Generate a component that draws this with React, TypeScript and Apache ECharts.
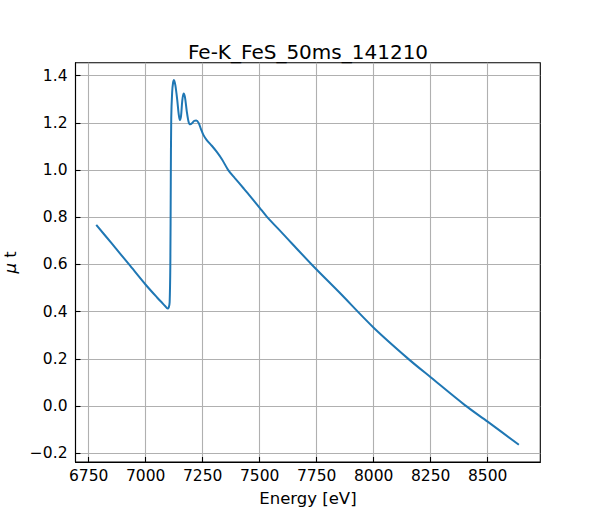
import React, { useEffect, useRef } from "react";
import * as echarts from "echarts";

const energy = [
  6783, 6850, 6927, 7000, 7050, 7085, 7096, 7101, 7105, 7108, 7110, 7112, 7116, 7120, 7124,
  7130, 7138, 7145, 7150, 7155, 7160, 7166, 7172, 7180, 7188, 7195, 7203, 7212, 7222,
  7232, 7242, 7253, 7267, 7290, 7311, 7335, 7362, 7392, 7430, 7457, 7500, 7531, 7600,
  7728, 7850, 8000, 8152, 8250, 8400, 8500, 8637,
];
const mu = [
  0.768, 0.69, 0.6, 0.514, 0.46, 0.424, 0.413, 0.418, 0.44, 0.6, 0.95, 1.22, 1.33, 1.37, 1.382,
  1.36, 1.3, 1.235, 1.212, 1.23, 1.29, 1.325, 1.31, 1.25, 1.205, 1.194, 1.198, 1.208, 1.21,
  1.2, 1.175, 1.149, 1.128, 1.103, 1.078, 1.045, 1.0, 0.965, 0.922, 0.891, 0.84, 0.803, 0.732,
  0.6, 0.481, 0.332, 0.2, 0.122, 0.004, -0.066, -0.164,
];
const xTicks = [6750, 7000, 7250, 7500, 7750, 8000, 8250, 8500];
const yTicks = [-0.2, 0, 0.2, 0.4, 0.6, 0.8, 1.0, 1.2, 1.4];
const title = "Fe-K_FeS_50ms_141210";

const FONT = "DejaVu Sans";

export default function App() {
  const ref = useRef<HTMLDivElement>(null);
  useEffect(() => {
    document.body.style.margin = "0";
    const chart = echarts.init(ref.current!, null, { renderer: "svg" });
    const points = energy.map((e, i) => [e, mu[i]]);
    chart.setOption({
      animation: false,
      backgroundColor: "#ffffff",
      title: {
        text: title,
        left: 303,
        textAlign: "center",
        top: 37,
        textStyle: { fontFamily: FONT, fontSize: 20, fontWeight: "normal", color: "#000" },
      },
      grid: {
        left: 75.5,
        right: 59.7,
        top: 62.7,
        bottom: 58,
        show: true,
        borderColor: "#000",
        borderWidth: 1.1,
        containLabel: false,
        outerBoundsMode: "none",
      },
      xAxis: {
        type: "value",
        min: 6692,
        max: 8731,
        name: "Energy [eV]",
        nameLocation: "middle",
        nameGap: 28,
        nameTextStyle: { fontFamily: FONT, fontSize: 16.5, color: "#000" },
        axisLine: { show: true, onZero: false, lineStyle: { color: "#000", width: 1.1 } },
        axisTick: { show: true, inside: true, length: 5, customValues: xTicks, lineStyle: { color: "#000", width: 1.1 } },
        axisLabel: {
          show: true,
          customValues: xTicks,
          margin: 6,
          fontFamily: FONT,
          fontSize: 15.5,
          color: "#000",
          formatter: (v: number) => String(v),
        },
        splitLine: { show: true, lineStyle: { color: "#b0b0b0", width: 1.1 } },
      },
      yAxis: {
        type: "value",
        min: -0.237,
        max: 1.455,
        name: "{i|μ} t",
        nameLocation: "middle",
        nameGap: 57,
        nameRotate: 90,
        nameTextStyle: {
          fontFamily: FONT,
          fontSize: 16.5,
          color: "#000",
          rich: { i: { fontFamily: FONT, fontSize: 16.5, fontStyle: "italic", color: "#000" } },
        },
        axisLine: { show: true, onZero: false, lineStyle: { color: "#000", width: 1.1 } },
        axisTick: { show: true, inside: true, length: 5, customValues: yTicks, lineStyle: { color: "#000", width: 1.1 } },
        axisLabel: {
          show: true,
          customValues: yTicks,
          margin: 8,
          fontFamily: FONT,
          fontSize: 15.5,
          color: "#000",
          formatter: (v: number) => {
            const s = v.toFixed(1);
            return s.startsWith("-") ? "\u2212" + s.slice(1) : s;
          },
        },
        splitLine: { show: true, lineStyle: { color: "#b0b0b0", width: 1.1 } },
      },
      series: [
        {
          type: "line",
          data: points,
          showSymbol: false,
          symbol: "none",
          smooth: 0.3,
          lineStyle: { color: "#1f77b4", width: 2 },
          clip: true,
        },
      ],
    });
    return () => chart.dispose();
  }, []);
  return <div ref={ref} style={{ width: 600, height: 520 }} />;
}
